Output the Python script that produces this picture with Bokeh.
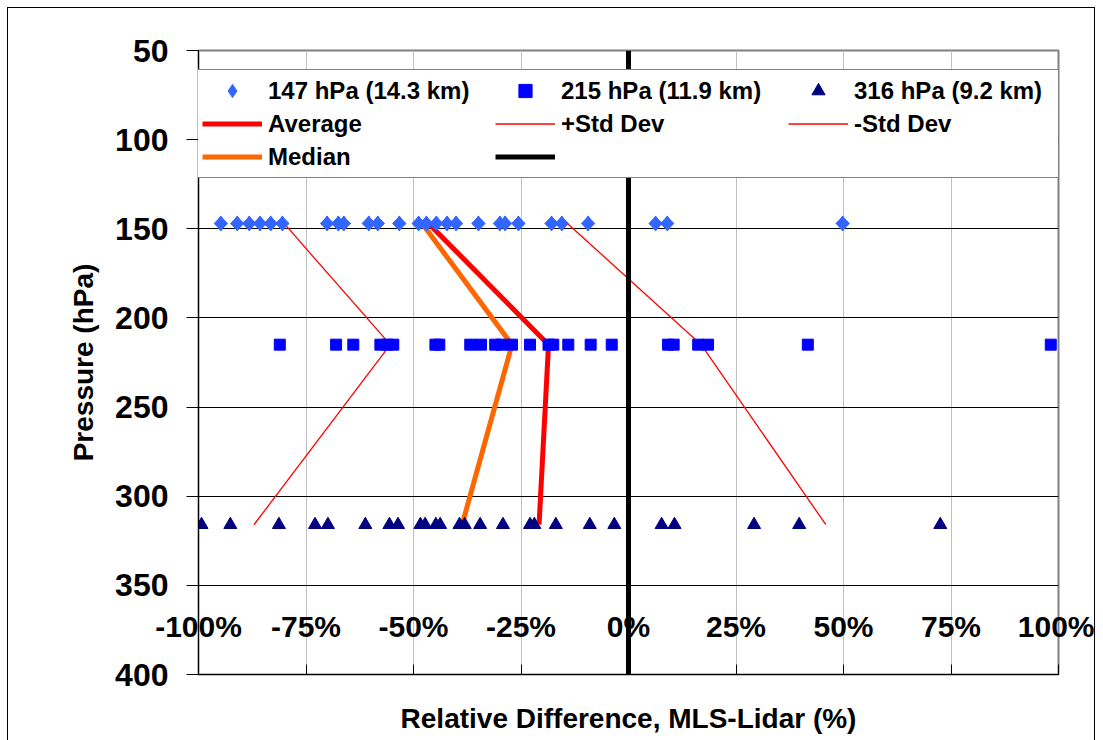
import math
from bokeh.plotting import figure
from bokeh.models import Range1d, Legend, LegendItem, FixedTicker
from bokeh.embed import file_html
from bokeh.resources import INLINE

FONT = "Liberation Sans"

# ---- data ----
level_147 = 147
level_215 = 215
level_316 = 316
levels = [147, 215, 316]

diff_147 = [-94.8, -91.0, -88.2, -85.7, -83.2, -80.5, -70.1, -67.5, -66.2, -60.4,
            -58.3, -53.3, -48.8, -47.0, -44.7, -42.2, -40.1, -34.9, -29.9, -28.7,
            -25.6, -17.9, -15.5, -9.4, 6.3, 9.0, 49.8]
diff_215 = [-81.1, -68.0, -64.0, -57.7, -56.1, -54.7, -44.9, -44.0, -36.8, -34.3,
            -31.0, -29.5, -27.1, -22.9, -18.6, -17.5, -14.0, -8.8, -3.9, 9.2,
            10.5, 16.2, 18.5, 41.7, 98.2]
diff_316 = [-99.3, -92.6, -81.3, -72.9, -69.9, -61.2, -55.6, -53.6, -48.4, -47.3,
            -44.8, -43.8, -39.3, -38.1, -34.5, -29.2, -22.9, -21.9, -16.9, -9.0,
            -3.3, 7.7, 10.7, 29.2, 39.7, 72.5]

average = [-46.5, -18.6, -20.8]
median = [-48.0, -27.1, -38.7]
std_plus = [-14.2, 16.9, 45.9]
std_minus = [-80.1, -55.4, -87.1]

zero_x = [0, 0]
zero_y = [50, 400]

x_ticks = [-100, -75, -50, -25, 0, 25, 50, 75, 100]
x_tick_labels = ["-100%", "-75%", "-50%", "-25%", "0%", "25%", "50%", "75%", "100%"]
y_ticks = [50, 100, 150, 200, 250, 300, 350, 400]

# ---- figure ----
p = figure(width=1088, height=740,
           x_range=Range1d(-100, 100), y_range=Range1d(400, 50),
           output_backend="svg", toolbar_location=None,
           min_border_left=190, min_border_right=38,
           min_border_top=42, min_border_bottom=74)
p.styles = {"border": "1px solid black", "margin": "7px 0px 0px 7px"}
p.background_fill_color = "white"
p.border_fill_color = "white"
p.outline_line_color = "#808080"
p.outline_line_width = 2

# grids
p.xgrid.ticker = FixedTicker(ticks=x_ticks)
p.xgrid.grid_line_color = "#C0C0C0"
p.xgrid.grid_line_width = 1
p.ygrid.ticker = FixedTicker(ticks=y_ticks)
p.ygrid.grid_line_color = "black"
p.ygrid.grid_line_width = 1

# y axis
ya = p.yaxis[0]
ya.ticker = FixedTicker(ticks=y_ticks)
ya.major_tick_out = 12
ya.major_tick_in = 0
ya.minor_tick_out = 0
ya.minor_tick_in = 0
ya.major_tick_line_color = "black"
ya.axis_line_color = "black"
ya.major_label_text_font = FONT
ya.major_label_text_font_style = "bold"
ya.major_label_text_font_size = "32px"
ya.major_label_text_color = "black"
ya.major_label_standoff = 18
ya.axis_label = "Pressure (hPa)"
ya.axis_label_text_font = FONT
ya.axis_label_text_font_style = "bold"
ya.axis_label_text_font_size = "28px"
ya.axis_label_text_color = "black"
ya.axis_label_standoff = 13

# x axis: its labels sit above the axis line, inside the plot, like the reference
xa = p.xaxis[0]
xa.ticker = FixedTicker(ticks=x_ticks)
xa.major_label_overrides = {t: s for t, s in zip(x_ticks, x_tick_labels)}
xa.major_tick_in = 10
xa.major_tick_out = 0
xa.minor_tick_in = 0
xa.minor_tick_out = 0
xa.major_tick_line_color = "black"
xa.axis_line_color = "black"
xa.major_label_text_font = FONT
xa.major_label_text_font_style = "bold"
xa.major_label_text_font_size = "30px"
xa.major_label_text_color = "black"
xa.major_label_standoff = -65
xa.axis_label = "Relative Difference, MLS-Lidar (%)"
xa.axis_label_text_font = FONT
xa.axis_label_text_font_style = "bold"
xa.axis_label_text_font_size = "28px"
xa.axis_label_text_color = "black"
xa.axis_label_standoff = 57

# lines
r_avg = p.line(average, levels, line_color="#FF0000", line_width=5)
r_plus = p.line(std_plus, levels, line_color="#FF0000", line_width=1.3)
r_minus = p.line(std_minus, levels, line_color="#FF0000", line_width=1.3)
r_med = p.line(median, levels, line_color="#FF6600", line_width=5)

# markers (the narrow diamond doubles as legend swatch; the rotated square covers it)
r147_key = p.scatter(diff_147, [level_147] * len(diff_147), marker="diamond", size=15,
                     fill_color="#3366FF", line_color="#3366FF")
r147 = p.scatter(diff_147, [level_147] * len(diff_147), marker="square",
                 angle=math.pi / 4, size=9.5, fill_color="#3366FF", line_color="#3366FF")
r215 = p.scatter(diff_215, [level_215] * len(diff_215), marker="square",
                 size=11, fill_color="#0000FF", line_color="#0000FF")
r316 = p.scatter(diff_316, [level_316] * len(diff_316), marker="triangle",
                 size=13, fill_color="#000080", line_color="#000080")

r_zero = p.line(zero_x, zero_y, line_color="black", line_width=5)

items = [
    LegendItem(label="147 hPa (14.3 km)", renderers=[r147_key]),
    LegendItem(label="215 hPa (11.9 km)", renderers=[r215]),
    LegendItem(label="316 hPa (9.2 km)", renderers=[r316]),
    LegendItem(label="Average", renderers=[r_avg]),
    LegendItem(label="+Std Dev", renderers=[r_plus]),
    LegendItem(label="-Std Dev", renderers=[r_minus]),
    LegendItem(label="Median", renderers=[r_med]),
    LegendItem(label=" ", renderers=[r_zero]),
]
legend = Legend(items=items, orientation="horizontal", ncols=3,
                location=(-1, 496), padding=4, spacing=0, margin=0,
                glyph_width=60, glyph_height=33, label_height=33,
                label_width=227, label_standoff=6,
                label_text_font=FONT, label_text_font_style="bold",
                label_text_font_size="24px", label_text_color="black",
                border_line_color="black", border_line_width=1,
                background_fill_color="white", background_fill_alpha=1)
p.add_layout(legend, "center")

open("out.html", "w").write(file_html(p, INLINE))
